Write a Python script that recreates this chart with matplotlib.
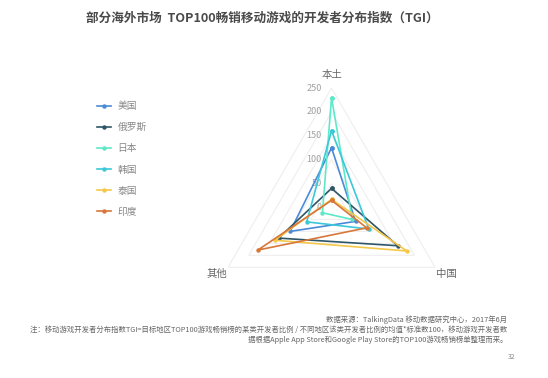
import numpy as np
import matplotlib.pyplot as plt
from matplotlib.transforms import offset_copy

plt.rcParams['font.family'] = ['Noto Sans CJK SC', 'DejaVu Sans']

# axes of the radar: 本土 (top), 中国 (bottom right), 其他 (bottom left)
axes_names = ['本土', '中国', '其他']
series_names = ['美国', '俄罗斯', '日本', '韩国', '泰国', '印度']
usa = [125, 58, 100]
russia = [40, 160, 128]
japan = [230, 50, 22]
korea = [161, 90, 60]
thailand = [17, 182, 137]
india = [15, 85, 178]
colors = ['#4a8ad8', '#2f5666', '#5ee8c8', '#3cc8d8', '#f5c84a', '#d8773a']
ticks = [50, 100, 150, 200, 250]

theta = np.array([np.pi / 2, -np.pi / 6, 7 * np.pi / 6])
closed = np.append(theta, theta[0])

fig = plt.figure(figsize=(5.48, 3.78), dpi=100)
ax = fig.add_axes([0.387, 0.135, 0.436, 0.632], projection='polar')
ax.set_ylim(0, 250)
ax.axis('off')

# triangular grid
for t in ticks:
    ax.plot(closed, [t] * 4, color='#eeeeee', lw=0.8, zorder=1)

data = [usa, russia, japan, korea, thailand, india]
for name, vals, c in zip(series_names, data, colors):
    ax.plot(closed, vals + vals[:1], color=c, lw=1.2, marker='o', ms=2.2,
            label=name, zorder=3)

tr = offset_copy(ax.transData, fig=fig, x=-10, y=0, units='dots')
for t in [0] + ticks:
    ax.text(np.pi / 2, t, str(t), transform=tr, ha='right', va='center',
            fontsize=6.5, color='#a0a0a0', zorder=2)

for a, name in zip(theta, axes_names):
    ax.text(a, 278, name, ha='center', va='center', fontsize=7.5,
            color='#666666', clip_on=False)

fig.legend(loc='upper left', bbox_to_anchor=(0.177, 0.733), frameon=False,
           fontsize=7, handlelength=1.4, handletextpad=0.7, labelspacing=1.15,
           borderpad=0, borderaxespad=0, labelcolor='#888888')

fig.text(0.478, 1 - 18 / 378, '部分海外市场  TOP100畅销移动游戏的开发者分布指数（TGI）',
         ha='center', va='center', fontsize=9.1, fontweight='bold', color='#4a4a4a')

fig.text(507 / 548, 1 - 320 / 378, '数据来源：TalkingData 移动数据研究中心，2017年6月',
         ha='right', va='center', fontsize=5.3, color='#666666')
fig.text(507 / 548, 1 - 330 / 378,
         '注：移动游戏开发者分布指数TGI=目标地区TOP100游戏畅销榜的某类开发者比例 / 不同地区该类开发者比例的均值*标准数100，移动游戏开发者数',
         ha='right', va='center', fontsize=5.3, color='#666666')
fig.text(507 / 548, 1 - 340 / 378,
         '据根据Apple App Store和Google Play Store的TOP100游戏畅销榜单整理而来。',
         ha='right', va='center', fontsize=5.3, color='#666666')
fig.text(512 / 548, 1 - 357 / 378, '32', ha='center', va='center',
         fontsize=5, color='#888888')

fig.savefig('out.png', dpi=100, facecolor='white')
